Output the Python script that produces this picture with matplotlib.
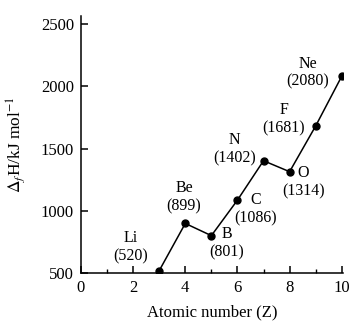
import matplotlib
matplotlib.use("Agg")
import matplotlib.pyplot as plt
from matplotlib.ticker import MultipleLocator

plt.rcParams['font.family'] = ['Liberation Serif', 'DejaVu Serif']
plt.rcParams['mathtext.fontset'] = 'stix'

z = [3, 4, 5, 6, 7, 8, 9, 10]
dh = [520, 899, 801, 1086, 1402, 1314, 1681, 2080]
names = ['Li', 'Be', 'B', 'C', 'N', 'O', 'F', 'Ne']
# label anchor (x, y of element name)
lab_x = [1.9, 3.95, 5.6, 6.71, 5.9, 8.52, 7.77, 8.71]
lab_y = [780, 1183, 815, 1087, 1566, 1302, 1805, 2181]

fig = plt.figure(figsize=(3.49, 3.21), dpi=100)
ax = fig.add_axes([0.232, 0.149, 0.751, 0.80])

ax.plot(z, dh, color='black', lw=1.1, marker='o', ms=5)

for n, v, x, y in zip(names, dh, lab_x, lab_y):
    ax.text(x, y, n, ha='center', va='center', fontsize=11.5)
    ax.text(x, y - 145, '(%d)' % v, ha='center', va='center', fontsize=11.5)

ax.set_xlim(0, 10.05)
ax.set_ylim(500, 2560)
ax.xaxis.set_major_locator(MultipleLocator(2))
ax.xaxis.set_minor_locator(MultipleLocator(1))
ax.yaxis.set_major_locator(MultipleLocator(500))

ax.spines['top'].set_visible(False)
ax.spines['right'].set_visible(False)
for s in ['left', 'bottom']:
    ax.spines[s].set_linewidth(1.1)

ax.tick_params(axis='both', which='major', direction='in', length=5, width=1.1,
               labelsize=12, pad=5)
ax.tick_params(axis='x', which='minor', direction='in', length=3, width=1.0)

ax.set_xlabel('Atomic number (Z)', fontsize=12)
ax.set_ylabel(r'$\Delta_f$H/kJ mol$^{-1}$', fontsize=12.5)
ax.xaxis.set_label_coords(0.5, -0.12)
ax.yaxis.set_label_coords(-0.205, 0.5)

fig.savefig('out.png', dpi=100)
